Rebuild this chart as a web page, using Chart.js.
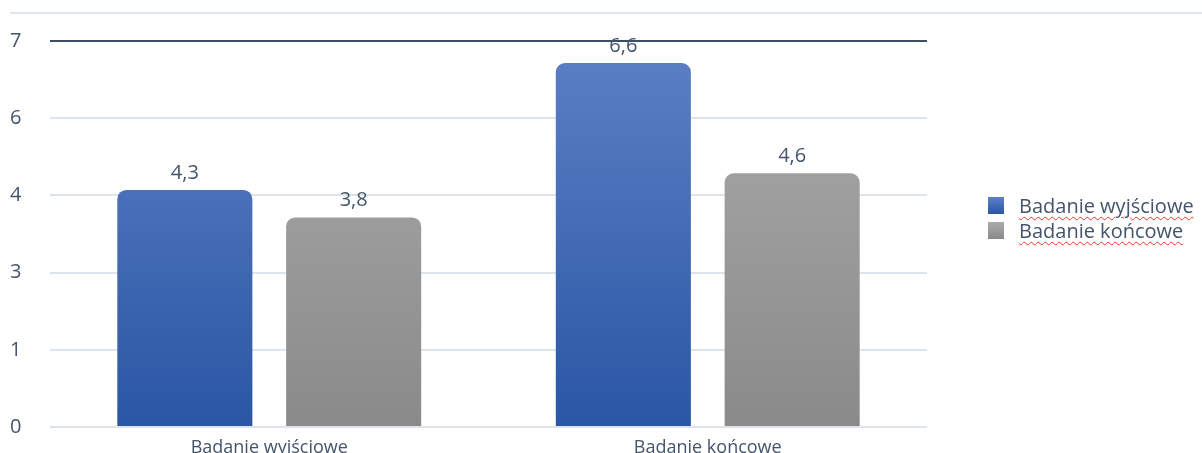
<!DOCTYPE html>
<html>
<head>
<meta charset="utf-8">
<script src="https://cdn.jsdelivr.net/npm/chart.js@4"></script>
<style>
  body { margin: 0; background: #fff; }
  #wrap { position: relative; width: 1202px; height: 453px; }
  #topline { position: absolute; left: 10px; right: 0; top: 12px; height: 2px; background: #dfe6ee; }
  #legend { position: absolute; left: 988px; top: 193px; font-family: "Open Sans", sans-serif; font-size: 20px; color: #44546a; line-height: 25px; }
  #legend div { display: flex; align-items: center; }
  #legend span.box { width: 16px; height: 17px; margin-right: 15px; display: inline-block; }
  #legend span.txt { text-decoration: underline wavy #e8392e; text-decoration-thickness: 1px; text-underline-offset: 3px; }
</style>
</head>
<body>
<div id="wrap">
  <div id="topline"></div>
  <canvas id="chart" width="1202" height="453"></canvas>
  <div id="legend"></div>
</div>
<script>
// Chart data
const categories = ['Badanie wyjściowe', 'Badanie końcowe'];
const seriesNames = ['Badanie wyjściowe', 'Badanie końcowe'];
const wyjsciowe = [4.3, 6.6];
const koncowe = [3.8, 4.6];
const yMax = 7;
const yStep = 1.4;

const textColor = '#44546a';

// Gradient fills for the bars
const makeGradient = (ctx, top, bottom) => {
  const area = ctx.chart.chartArea;
  if (!area) return top;
  const g = ctx.chart.ctx.createLinearGradient(0, area.top, 0, area.bottom);
  g.addColorStop(0, top);
  g.addColorStop(1, bottom);
  return g;
};

// Value labels above bars, with Polish decimal comma
const valueLabels = {
  id: 'valueLabels',
  afterDatasetsDraw(chart) {
    const ctx = chart.ctx;
    ctx.save();
    ctx.font = '20px "Open Sans", sans-serif';
    ctx.fillStyle = textColor;
    ctx.textAlign = 'center';
    ctx.textBaseline = 'bottom';
    chart.data.datasets.forEach((ds, i) => {
      chart.getDatasetMeta(i).data.forEach((bar, j) => {
        ctx.fillText(ds.data[j].toFixed(1).replace('.', ','), bar.x, bar.y - 7);
      });
    });
    ctx.restore();
  }
};

new Chart(document.getElementById('chart'), {
  type: 'bar',
  data: {
    labels: categories,
    datasets: [
      {
        label: seriesNames[0],
        data: wyjsciowe,
        backgroundColor: (ctx) => makeGradient(ctx, '#5d80c6', '#2a56a4'),
        borderRadius: { topLeft: 9, topRight: 9 },
        borderSkipped: 'bottom'
      },
      {
        label: seriesNames[1],
        data: koncowe,
        backgroundColor: (ctx) => makeGradient(ctx, '#ababab', '#8a8a8a'),
        borderRadius: { topLeft: 9, topRight: 9 },
        borderSkipped: 'bottom'
      }
    ]
  },
  options: {
    responsive: false,
    animation: false,
    layout: { padding: { top: 41, right: 275, left: 10, bottom: 0 } },
    datasets: { bar: { categoryPercentage: 0.77, barPercentage: 0.8 } },
    plugins: { legend: { display: false }, tooltip: { enabled: false } },
    scales: {
      x: {
        grid: { display: false },
        border: { display: false },
        ticks: { color: textColor, font: { family: '"Open Sans", sans-serif', size: 18 }, padding: 2 },
        afterFit: (scale) => { scale.height = 26; }
      },
      y: {
        min: 0,
        max: yMax,
        border: { display: false },
        grid: {
          drawTicks: false,
          color: (ctx) => ctx.tick && Math.abs(ctx.tick.value - yMax) < 1e-6 ? '#3c4d66' : '#dde4ec',
          lineWidth: 2
        },
        ticks: {
          stepSize: yStep,
          color: textColor,
          padding: 3,
          crossAlign: 'far',
          font: { family: '"Open Sans", sans-serif', size: 20 },
          callback: (v) => Math.round(v)
        },
        afterFit: (scale) => { scale.width = 40; }
      }
    }
  },
  plugins: [valueLabels]
});

// HTML legend
const legendColors = ['linear-gradient(#5d80c6, #2a56a4)', 'linear-gradient(#ababab, #8a8a8a)'];
document.getElementById('legend').innerHTML = seriesNames.map((name, i) => `
  <div><span class="box" style="background:${legendColors[i]}"></span><span class="txt">${name}</span></div>
`).join('');
</script>
</body>
</html>
